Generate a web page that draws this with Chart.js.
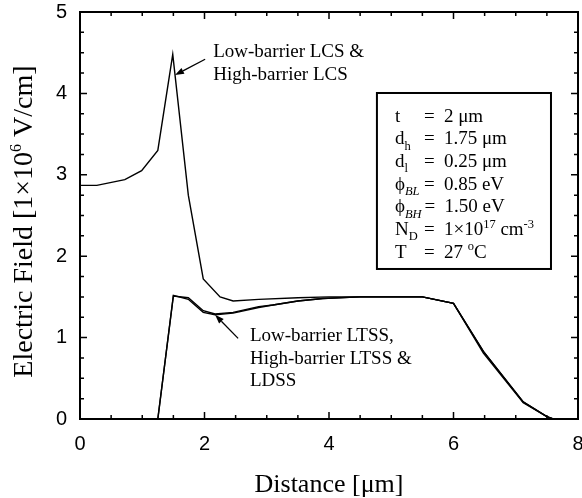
<!DOCTYPE html>
<html><head><meta charset="utf-8">
<script src="https://cdn.jsdelivr.net/npm/chart.js@4/dist/chart.umd.min.js"></script>
<style>html,body{margin:0;padding:0;background:#fff;overflow:hidden}#wrap{width:582px;height:498px;position:relative}</style>
</head><body><div id="wrap"><canvas id="c" width="582" height="498"></canvas></div>
<script>
// ---- data ----
const lcsX  = [0, 0.27, 0.72, 0.99, 1.25, 1.49, 1.74, 1.98, 2.25, 2.46, 2.87, 3.5, 4.0, 5.5, 6.0, 6.48, 7.12, 7.5, 7.6];
const lcsY  = [2.87, 2.87, 2.94, 3.05, 3.30, 4.48, 2.75, 1.72, 1.50, 1.45, 1.47, 1.49, 1.50, 1.50, 1.42, 0.83, 0.21, 0.03, 0];
const ltssX = [1.25, 1.50, 1.74, 1.98, 2.17, 2.46, 2.87, 3.1, 3.5, 3.9, 4.5, 5.5, 6.0, 6.48, 7.12, 7.5, 7.6];
const ltssY = [0, 1.51, 1.49, 1.33, 1.29, 1.31, 1.38, 1.40, 1.45, 1.48, 1.50, 1.50, 1.42, 0.83, 0.21, 0.03, 0];
const ldssX = [1.25, 1.50, 1.74, 1.98, 2.17, 2.46, 2.87, 3.1, 3.5, 3.9, 4.5, 5.5, 6.0, 6.48, 7.12, 7.5, 7.6];
const ldssY = [0, 1.52, 1.47, 1.31, 1.28, 1.30, 1.37, 1.40, 1.45, 1.48, 1.50, 1.50, 1.42, 0.81, 0.20, 0.03, 0];
const xTicks = [0, 2, 4, 6, 8];
const yTicks = [0, 1, 2, 3, 4, 5];
const xTitle = 'Distance [μm]';
const yTitleParts = [['Electric Field [1×10'], ['6', 'sup'], [' V/cm]']];
const lcsLabel  = ['Low-barrier LCS &', 'High-barrier LCS'];
const ltssLabel = ['Low-barrier LTSS,', 'High-barrier LTSS &', 'LDSS'];
const paramNames = [
  [['t']], [['d'], ['h', 'sub']], [['d'], ['l', 'sub']],
  [['ϕ'], ['BL', 'sub', 1]], [['ϕ'], ['BH', 'sub', 1]],
  [['N'], ['D', 'sub']], [['T']]
];
const paramValues = [
  [['2 μm']], [['1.75 μm']], [['0.25 μm']], [['0.85 eV']], [['1.50 eV']],
  [['1×10'], ['17', 'sup'], [' cm'], ['-3', 'sup']], [['27 '], ['o', 'sup'], ['C']]
];

// ---- drawing ----
const SERIF = '"Liberation Serif", "Times New Roman", serif';
const SANS = '"Liberation Sans", Arial, sans-serif';
const xMinorStep = 0.5, yMinorStep = 0.25;

function toPts(X, Y) { return X.map((x, i) => ({ x: x, y: Y[i] })); }

function drawRich(ctx, parts, x, y, base, small) {
  let cx = x;
  for (const p of parts) {
    const size = p[1] ? small : base;
    ctx.font = (p[2] ? 'italic ' : '') + size + 'px ' + SERIF;
    const dy = p[1] === 'sub' ? base * 0.28 : p[1] === 'sup' ? -base * 0.38 : 0;
    ctx.fillText(p[0], cx, y + dy);
    cx += ctx.measureText(p[0]).width;
  }
  return cx;
}
function richWidth(ctx, parts, base, small) {
  let w = 0;
  for (const p of parts) {
    ctx.font = (p[2] ? 'italic ' : '') + (p[1] ? small : base) + 'px ' + SERIF;
    w += ctx.measureText(p[0]).width;
  }
  return w;
}
function arrow(ctx, x1, y1, x2, y2) {
  const ang = Math.atan2(y2 - y1, x2 - x1), L = 9, W = 3.2;
  const bx = x2 - L * Math.cos(ang), by = y2 - L * Math.sin(ang);
  ctx.beginPath(); ctx.moveTo(x1, y1); ctx.lineTo(bx, by); ctx.stroke();
  ctx.beginPath();
  ctx.moveTo(x2, y2);
  ctx.lineTo(bx + W * Math.sin(ang), by - W * Math.cos(ang));
  ctx.lineTo(bx - W * Math.sin(ang), by + W * Math.cos(ang));
  ctx.closePath(); ctx.fill();
}

const decor = {
  id: 'decor',
  afterDraw(chart) {
    const { ctx, chartArea: a, scales: { x, y } } = chart;
    const px = v => x.getPixelForValue(v), py = v => y.getPixelForValue(v);
    ctx.save();
    ctx.strokeStyle = '#000'; ctx.fillStyle = '#000';
    // frame
    ctx.lineWidth = 2;
    ctx.strokeRect(a.left, a.top, a.right - a.left, a.bottom - a.top);
    // inward ticks
    ctx.lineWidth = 1.5;
    ctx.beginPath();
    for (let v = x.min; v <= x.max + 1e-9; v += xMinorStep) {
      const p = px(v), L = xTicks.includes(Math.round(v * 100) / 100) ? 7 : 4;
      ctx.moveTo(p, a.bottom); ctx.lineTo(p, a.bottom - L);
      ctx.moveTo(p, a.top); ctx.lineTo(p, a.top + L);
    }
    for (let v = y.min; v <= y.max + 1e-9; v += yMinorStep) {
      const p = py(v), L = yTicks.includes(Math.round(v * 100) / 100) ? 7 : 4;
      ctx.moveTo(a.left, p); ctx.lineTo(a.left + L, p);
      ctx.moveTo(a.right, p); ctx.lineTo(a.right - L, p);
    }
    ctx.stroke();

    // parameter box
    const bl = px(4.77), bt = py(4.005), br = px(7.566), bb = py(1.843);
    ctx.lineWidth = 2;
    ctx.strokeRect(bl, bt, br - bl, bb - bt);
    ctx.textBaseline = 'alphabetic'; ctx.textAlign = 'left';
    for (let i = 0; i < paramNames.length; i++) {
      const yy = bt + 28.7 + i * 22.67;
      const end = drawRich(ctx, paramNames[i], bl + 18, yy, 19, 12.5);
      const eqX = Math.max(bl + 47, end + 3);
      drawRich(ctx, [['=']], eqX, yy, 19, 12.5);
      drawRich(ctx, paramValues[i], eqX + 20, yy, 19, 12.5);
    }

    // annotations
    ctx.font = '19px ' + SERIF;
    const a1x = px(2.14), a1y = py(4.453);
    lcsLabel.forEach((t, i) => ctx.fillText(t, a1x, a1y + i * 23));
    ctx.lineWidth = 1.3;
    arrow(ctx, px(2.01), py(4.42), px(1.526), py(4.226));
    const a2x = px(2.73), a2y = py(0.958);
    ltssLabel.forEach((t, i) => ctx.fillText(t, a2x, a2y + i * 22.5));
    arrow(ctx, px(2.54), py(0.991), px(2.17), py(1.28));

    // y axis title (rotated, with superscript)
    const base = 28, small = 16;
    const w = richWidth(ctx, yTitleParts, base, small);
    ctx.translate(a.left - 48, (a.top + a.bottom) / 2 + 6);
    ctx.rotate(-Math.PI / 2);
    drawRich(ctx, yTitleParts, -w / 2, 0, base, small);
    ctx.restore();
  }
};

new Chart(document.getElementById('c'), {
  type: 'line',
  data: {
    datasets: [
      { label: 'LCS', data: toPts(lcsX, lcsY) },
      { label: 'LTSS', data: toPts(ltssX, ltssY) },
      { label: 'LDSS', data: toPts(ldssX, ldssY) }
    ].map(d => Object.assign(d, { borderColor: '#000', borderWidth: 1.4, pointRadius: 0, fill: false, tension: 0 }))
  },
  options: {
    responsive: false, animation: false, devicePixelRatio: 1,
    layout: { padding: { top: 12, right: 4, left: 0, bottom: 0 } },
    plugins: { legend: { display: false }, tooltip: { enabled: false } },
    scales: {
      x: {
        type: 'linear', min: 0, max: 8,
        afterBuildTicks: s => { s.ticks = xTicks.map(v => ({ value: v })); },
        ticks: { color: '#000', font: { family: SANS, size: 20 }, padding: 13, maxRotation: 0, autoSkip: false },
        grid: { display: false, drawTicks: false }, border: { display: false },
        title: { display: true, text: xTitle, color: '#000', font: { family: SERIF, size: 26 }, padding: { top: 0, bottom: -3 } },
        afterFit: s => { s.height = 79; s.paddingLeft = 0; s.paddingRight = 0; }
      },
      y: {
        type: 'linear', min: 0, max: 5,
        afterBuildTicks: s => { s.ticks = yTicks.map(v => ({ value: v })); },
        ticks: { color: '#000', font: { family: SANS, size: 20 }, padding: 13, autoSkip: false },
        grid: { display: false, drawTicks: false }, border: { display: false },
        afterFit: s => { s.width = 80; s.paddingTop = 0; s.paddingBottom = 0; }
      }
    }
  },
  plugins: [decor]
});
</script></body></html>
